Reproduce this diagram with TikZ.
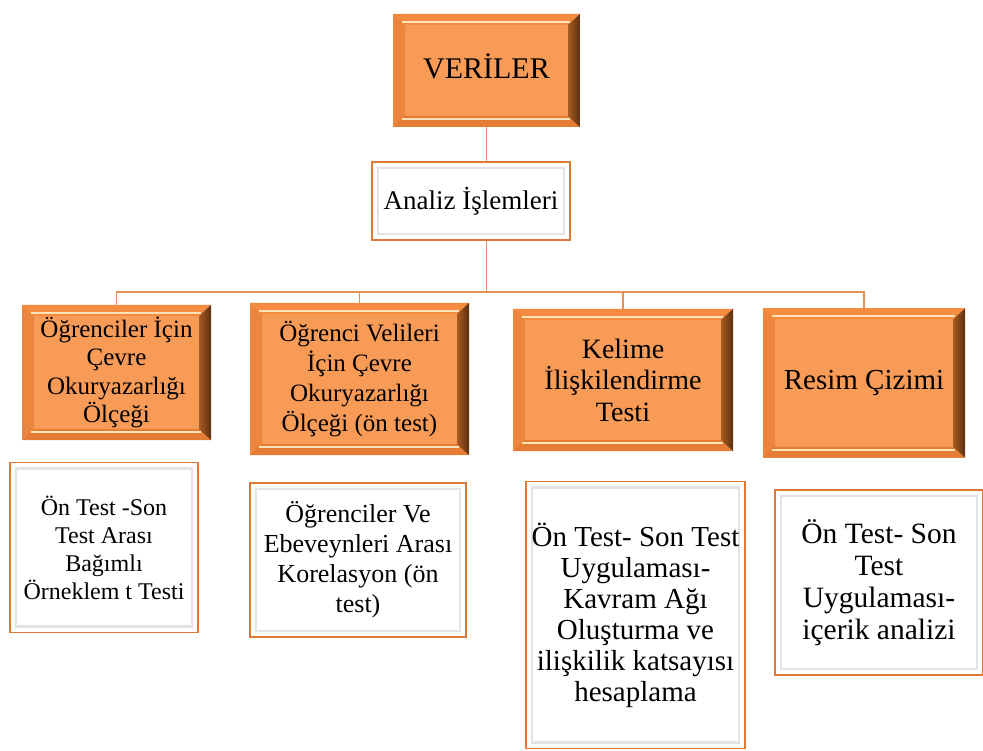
\documentclass[tikz,border=0pt]{standalone}
\usepackage{fontspec}
\setmainfont{Liberation Serif}
\definecolor{ofill}{HTML}{F89B57}
\definecolor{otop}{HTML}{F48B3F}
\definecolor{oleft}{HTML}{EC863C}
\definecolor{obot}{HTML}{E47C34}
\definecolor{odark}{HTML}{5A3012}
\definecolor{omid}{HTML}{A85A22}
\definecolor{ohl}{HTML}{FFE2B8}
\definecolor{wline}{HTML}{DE7A34}
\definecolor{conn}{HTML}{E8905A}
\tikzset{
  obox/.style={fill=ofill, inner sep=0pt, align=center,
    path picture={
      \fill[otop] (path picture bounding box.north west) -- (path picture bounding box.north east)
        -- ([shift={(-12pt,-11pt)}]path picture bounding box.north east) -- ([shift={(12pt,-11pt)}]path picture bounding box.north west) -- cycle;
      \fill[oleft] (path picture bounding box.north west) -- ([shift={(12pt,-11pt)}]path picture bounding box.north west)
        -- ([shift={(12pt,11pt)}]path picture bounding box.south west) -- (path picture bounding box.south west) -- cycle;
      \fill[obot] (path picture bounding box.south west) -- ([shift={(12pt,11pt)}]path picture bounding box.south west)
        -- ([shift={(-12pt,11pt)}]path picture bounding box.south east) -- (path picture bounding box.south east) -- cycle;
      \shade[left color=omid, right color=odark] (path picture bounding box.north east) -- ([shift={(-12pt,-11pt)}]path picture bounding box.north east)
        -- ([shift={(-12pt,11pt)}]path picture bounding box.south east) -- (path picture bounding box.south east) -- cycle;
      \draw[ohl, line width=2pt] ([shift={(9pt,-8pt)}]path picture bounding box.north west) -- ([shift={(-10pt,-8pt)}]path picture bounding box.north east);
      \draw[ohl, line width=2pt] ([shift={(9pt,8pt)}]path picture bounding box.south west) -- ([shift={(-10pt,8pt)}]path picture bounding box.south east);
    }},
  wbox/.style={fill=white, draw=wline, line width=1.3pt, inner sep=0pt, align=center,
    path picture={
      \draw[gray!22, line width=2.5pt] ([shift={(6pt,-6pt)}]path picture bounding box.north west) rectangle ([shift={(-6pt,6pt)}]path picture bounding box.south east);
      \draw[odark!80, line width=2.5pt] (path picture bounding box.north east) -- (path picture bounding box.south east);
    }},
  conline/.style={draw=conn, line width=1.5pt}
}
\begin{document}
\begin{tikzpicture}[x=1pt,y=-1pt]
\useasboundingbox (0,0) rectangle (983,751);
\coordinate (bus) at (486.5,292);
\node[obox, minimum width=187pt, minimum height=113pt, font={\rmfamily\fontsize{30}{36}\selectfont}] (ver) at (486.5,70.5) {\raisebox{8pt}{VERİLER}};
\node[wbox, minimum width=198pt, minimum height=78pt, font={\rmfamily\fontsize{27}{32}\selectfont}] (ana) at (471,201) {Analiz İşlemleri};
\draw[conline] (ver.south) -- (ver.south |- ana.north);
\draw[conline] (ver.south |- ana.south) -- (bus);
\node[obox, minimum width=189pt, minimum height=135pt, font={\rmfamily\fontsize{25}{28.5}\selectfont}] (o1) at (116.5,372.5) {Öğrenciler İçin\\Çevre\\Okuryazarlığı\\Ölçeği};
\node[obox, minimum width=219pt, minimum height=152pt, font={\rmfamily\fontsize{25}{30}\selectfont}] (o2) at (359.5,379) {Öğrenci Velileri\\İçin Çevre\\Okuryazarlığı\\Ölçeği (ön test)};
\node[obox, minimum width=220pt, minimum height=142pt, font={\rmfamily\fontsize{28}{31.5}\selectfont}] (o3) at (623,380) {Kelime\\İlişkilendirme\\Testi};
\node[obox, minimum width=202pt, minimum height=149pt, font={\rmfamily\fontsize{29}{34}\selectfont}] (o4) at (864,383) {\raisebox{4pt}{Resim Çizimi}};
\draw[conline] (o1.north) |- (bus);
\draw[conline] (o2.north) |- (bus);
\draw[conline] (o3.north) |- (bus);
\draw[conline] (o4.north) |- (bus);
\node[wbox, minimum width=188pt, minimum height=170pt, font={\rmfamily\fontsize{24}{28}\selectfont}] (w1) at (104,547.5) {Ön Test -Son\\Test Arası\\Bağımlı\\Örneklem t Testi};
\node[wbox, minimum width=216pt, minimum height=154pt, font={\rmfamily\fontsize{26}{30}\selectfont}] (w2) at (358,560) {Öğrenciler Ve\\Ebeveynleri Arası\\Korelasyon (ön\\test)};
\node[wbox, minimum width=219pt, minimum height=267pt, font={\rmfamily\fontsize{29}{31}\selectfont}] (w3) at (635.5,615) {Ön Test- Son Test\\Uygulaması-\\Kavram Ağı\\Oluşturma ve\\ilişkilik katsayısı\\hesaplama};
\node[wbox, minimum width=208pt, minimum height=185pt, font={\rmfamily\fontsize{29.5}{32}\selectfont}] (w4) at (879,582.5) {Ön Test- Son\\Test\\Uygulaması-\\içerik analizi};
\end{tikzpicture}
\end{document}
